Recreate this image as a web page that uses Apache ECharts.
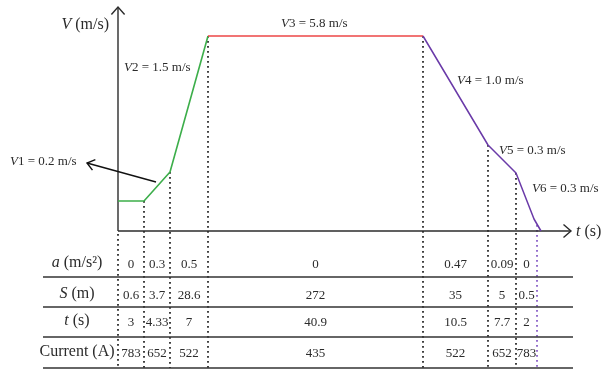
<!DOCTYPE html>
<html>
<head>
<meta charset="utf-8">
<script src="https://cdn.jsdelivr.net/npm/echarts@6/dist/echarts.min.js"></script>
<style>
  html, body { margin: 0; padding: 0; background: #ffffff; }
  #chart { width: 602px; height: 370px; }
</style>
</head>
<body>
<div id="chart"></div>
<script>
// Schematic units: x runs along time, y along speed (profile above 0, table rows below 0).
const profileT = [0, 26, 52, 90, 305, 370, 398, 416, 423];
const profileV = [30, 30, 59, 195, 195, 86, 58, 12, 0];

// Phase boundaries (dotted guides) and the height each guide starts from
const phaseEdges = [0, 26, 52, 90, 305, 370, 398, 419];
const guideTop = [-3, 30, 59, 195, 195, 86, 58, 6];

// Table values per phase
const accel = [0, 0.3, 0.5, 0, 0.47, 0.09, 0];
const distance = [0.6, 3.7, 28.6, 272, 35, 5, 0.5];
const duration = [3, 4.33, 7, 40.9, 10.5, 7.7, 2];
const current = [783, 652, 522, 435, 522, 652, 783];
const rowNames = ['{i|a} (m/s²)', '{i|S} (m)', '{i|t} (s)', 'Current (A)'];

// Speed annotations
const speedNotes = ['{i|V}1 = 0.2 m/s', '{i|V}2 = 1.5 m/s', '{i|V}3 = 5.8 m/s',
                    '{i|V}4 = 1.0 m/s', '{i|V}5 = 0.3 m/s', '{i|V}6 = 0.3 m/s'];

// ---- layout (schematic units) ----
const X_MAX = 453, Y_MAX = 224, Y_MIN = -137;
const notePos = [[-108, 69], [6, 163], [163, 207], [339, 150], [381, 80], [414, 42]];
const v1Arrow = [[38, 49], [-31, 68]];
const rowTextY = [-33, -64, -91, -122];
const ruleY = [-46, -76, -106, -137];
const tableSpan = [-75, 455];
const rowLabelX = -41;

const INK = '#2b2b2b';
const SERIF = '"Liberation Serif", "DejaVu Serif", serif';
const GREEN = '#3cae4a', RED = '#ec4646', PURPLE = '#6a3aa8';

const italicRich = (size) => ({ i: { fontStyle: 'italic', fontFamily: SERIF, fontSize: size, fill: INK } });

function textEl(str, p, size, align) {
  return {
    type: 'text',
    style: {
      text: str, x: p[0], y: p[1], fill: INK,
      fontFamily: SERIF, fontSize: size,
      align: align || 'left', verticalAlign: 'middle',
      rich: italicRich(size)
    }
  };
}

function chevron(tip, from, len, ang, color) {
  const a = Math.atan2(tip[1] - from[1], tip[0] - from[0]);
  const p1 = [tip[0] - len * Math.cos(a - ang), tip[1] - len * Math.sin(a - ang)];
  const p2 = [tip[0] - len * Math.cos(a + ang), tip[1] - len * Math.sin(a + ang)];
  return { type: 'polyline', shape: { points: [p1, tip, p2] },
           style: { stroke: color, fill: null, lineWidth: 1.4 } };
}

function seg(a, b, color, width, dash) {
  return { type: 'line', shape: { x1: a[0], y1: a[1], x2: b[0], y2: b[1] },
           style: { stroke: color, lineWidth: width, lineDash: dash || null, fill: null } };
}

function profileSlice(i0, i1) {
  const out = [];
  for (let i = i0; i <= i1; i++) out.push([profileT[i], profileV[i]]);
  return out;
}

function renderDiagram(params, api) {
  const c = (x, y) => api.coord([x, y]);
  const kids = [];

  // dotted phase guides
  phaseEdges.forEach((x, i) => {
    const color = i === phaseEdges.length - 1 ? '#7a4bc0' : '#111111';
    kids.push(seg(c(x, guideTop[i]), c(x, Y_MIN), color, 1.6, [1.8, 3.2]));
  });

  // table rules
  ruleY.forEach(y => kids.push(seg(c(tableSpan[0], y), c(tableSpan[1], y), '#333333', 1.4)));

  // axes with open arrowheads
  const o = c(0, 0), yTip = c(0, Y_MAX), xTip = c(X_MAX, 0);
  kids.push(seg(o, yTip, INK, 1.4), seg(o, xTip, INK, 1.4));
  kids.push(chevron(yTip, o, 10, 0.72, INK), chevron(xTip, o, 10, 0.72, INK));

  // V1 pointer
  const aFrom = c(v1Arrow[0][0], v1Arrow[0][1]), aTo = c(v1Arrow[1][0], v1Arrow[1][1]);
  kids.push(seg(aFrom, aTo, '#111111', 1.3), chevron(aTo, aFrom, 9, 0.65, '#111111'));

  // axis titles
  kids.push(textEl('{i|V} (m/s)', c(-9, 206), 16, 'right'));
  kids.push(textEl('{i|t} (s)', c(458, -1), 16, 'left'));

  // speed notes
  speedNotes.forEach((s, i) => kids.push(textEl(s, c(notePos[i][0], notePos[i][1]), 13, 'left')));

  // table
  const rows = [accel, distance, duration, current];
  rows.forEach((vals, r) => {
    kids.push(textEl(rowNames[r], c(rowLabelX, rowTextY[r] + 1), 16, 'center'));
    vals.forEach((v, k) => {
      const mid = (phaseEdges[k] + phaseEdges[k + 1]) / 2;
      kids.push(textEl(String(v), c(mid, rowTextY[r] - 1), 13, 'center'));
    });
  });

  return { type: 'group', children: kids };
}

const chart = echarts.init(document.getElementById('chart'), null, { renderer: 'canvas' });
chart.setOption({
  animation: false,
  backgroundColor: '#ffffff',
  grid: { left: 118, right: 602 - 118 - X_MAX, top: 7, bottom: 370 - 7 - (Y_MAX - Y_MIN) },
  xAxis: { type: 'value', min: 0, max: X_MAX, show: false },
  yAxis: { type: 'value', min: Y_MIN, max: Y_MAX, show: false },
  series: [
    { type: 'custom', renderItem: renderDiagram, data: [0], clip: false, silent: true, z: 1 },
    { type: 'line', data: profileSlice(0, 3), symbol: 'none', clip: false,
      lineStyle: { color: GREEN, width: 1.6 }, z: 3 },
    { type: 'line', data: profileSlice(3, 4), symbol: 'none', clip: false,
      lineStyle: { color: RED, width: 1.6 }, z: 3 },
    { type: 'line', data: profileSlice(4, 8), symbol: 'none', clip: false,
      lineStyle: { color: PURPLE, width: 1.5 }, z: 3 }
  ]
});
</script>
</body>
</html>
